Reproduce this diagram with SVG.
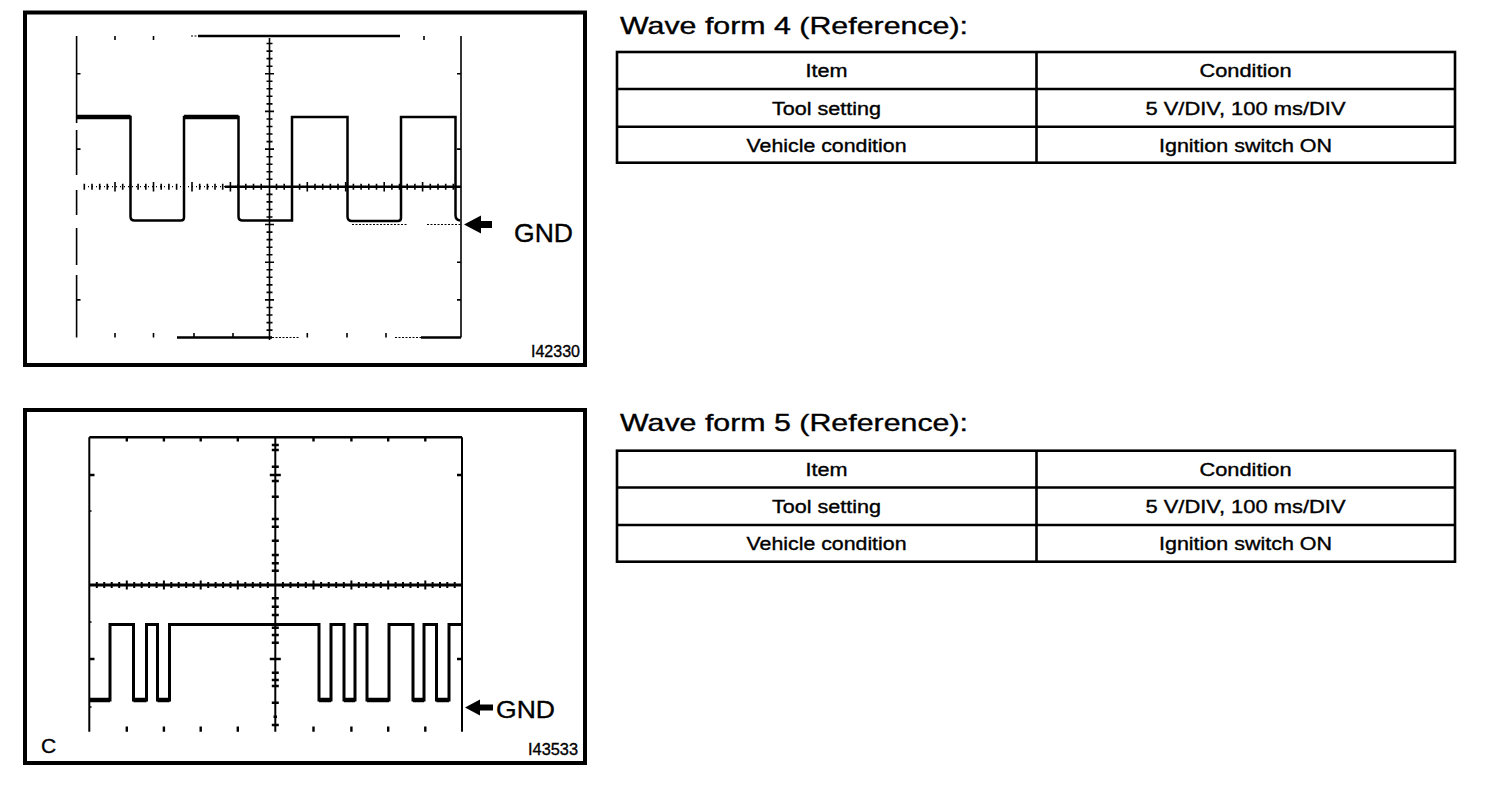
<svg xmlns="http://www.w3.org/2000/svg" width="1504" height="788" viewBox="0 0 1504 788">
<style>
  .frame{fill:none;stroke:#000;stroke-width:4}
  .grid{fill:none;stroke:#000;stroke-width:1.6}
  .gridb{fill:none;stroke:#000;stroke-width:2.4}
  .tick{fill:none;stroke:#000;stroke-width:1.6}
  .tickb{fill:none;stroke:#000;stroke-width:2.4}
  .wave{fill:none;stroke:#000;stroke-width:2.5;stroke-linejoin:miter}
  .dot{fill:none;stroke:#000;stroke-width:1.2;stroke-dasharray:2 1.5}
  .tbl{fill:none;stroke:#000;stroke-width:2.6}
  .t{font-family:"Liberation Sans",Arial,Helvetica,sans-serif;fill:#000;stroke:#000;stroke-width:0.35}
  .title{font-size:24px}
  .cell{font-size:18px;text-anchor:middle}
  .gnd{font-size:26px}
  .code{font-size:16px}
</style>
<rect width="1504" height="788" fill="#fff"/>

<!-- ===== Oscilloscope 1 (Wave form 4) ===== -->
<g id="scope4">
  <rect class="frame" x="25" y="12.5" width="560" height="352.5"/>
  <!-- outer grid -->
  <path class="grid" d="M76.6,36 V123 M76.6,130 V175 M76.6,190 V215 M76.6,228 V265 M76.6,275 V337.5"/>
  <path class="grid" d="M461,36 V337.5"/>
  <path class="gridb" d="M198,36 H400"/>
  <path class="dot" d="M191,36 H198"/>
  <path class="gridb" d="M177,337.5 H272 M421,337.5 H461"/>
  <path class="dot" d="M272,337.5 H300 M395,337.5 H421"/>
  <!-- top / bottom ticks -->
  <path class="tick" d="M115,36 V40 M153.5,36 V40 M424,36 V40 M115,337.5 V333 M153.5,337.5 V333 M194,337.5 V333 M233,337.5 V333 M307.3,337.5 V333 M347,337.5 V333 M386,337.5 V333"/>
  <!-- side ticks -->
  <path class="tick" d="M76.6,73.7 H80.5 M76.6,149.1 H80.5 M76.6,299.9 H80.5 M461,73.7 H457 M461,149.1 H457 M461,262.2 H457 M461,299.9 H457"/>
  <!-- centre vertical axis -->
  <path class="grid" d="M269.5,38 V340"/>
  <path class="tick" d="M266.5,43.5 H272.5 M266.5,51.1 H272.5 M266.5,58.6 H272.5 M266.5,66.2 H272.5 M265,73.7 H274 M266.5,81.2 H272.5 M266.5,88.8 H272.5 M266.5,96.3 H272.5 M266.5,103.9 H272.5 M265,111.4 H274 M266.5,119 H272.5 M266.5,126.5 H272.5 M266.5,134 H272.5 M266.5,141.6 H272.5 M265,149.1 H274 M266.5,156.7 H272.5 M266.5,164.2 H272.5 M266.5,171.7 H272.5 M266.5,179.3 H272.5 M266.5,194.4 H272.5 M266.5,201.9 H272.5 M266.5,209.5 H272.5 M266.5,217 H272.5 M265,224.5 H274 M266.5,232.1 H272.5 M266.5,239.6 H272.5 M266.5,247.2 H272.5 M266.5,254.7 H272.5 M265,262.2 H274 M266.5,269.8 H272.5 M266.5,277.3 H272.5 M266.5,284.9 H272.5 M266.5,292.4 H272.5 M265,299.9 H274 M266.5,307.5 H272.5 M266.5,315 H272.5 M266.5,322.6 H272.5 M266.5,330.1 H272.5"/>
  <!-- centre horizontal axis -->
  <path class="dot" d="M84,186.7 H225" style="stroke-dasharray:1 3"/>
  <path class="gridb" d="M225,186.7 H461"/>
  <path class="tick" d="M84.3,183.7 V189.7 M92,183.7 V189.7 M99.7,183.7 V189.7 M107.3,183.7 V189.7 M115,182 V191.5 M122.7,183.7 V189.7 M130.4,183.7 V189.7 M138.1,183.7 V189.7 M145.8,183.7 V189.7 M153.5,182 V191.5 M161.2,183.7 V189.7 M168.9,183.7 V189.7 M176.6,183.7 V189.7 M184.2,183.7 V189.7 M192,182 V191.5 M199.7,183.7 V189.7 M207.4,183.7 V189.7 M215,183.7 V189.7 M222.7,183.7 V189.7 M230.4,182 V191.5 M238.1,183.7 V189.7 M245.8,183.7 V189.7 M253.5,183.7 V189.7 M261.2,183.7 V189.7 M276.5,183.7 V189.7 M284.2,183.7 V189.7 M292,183.7 V189.7 M299.6,183.7 V189.7 M307.3,182 V191.5 M315,183.7 V189.7 M322.7,183.7 V189.7 M330.4,183.7 V189.7 M338,183.7 V189.7 M345.7,182 V191.5 M353.4,183.7 V189.7 M361.1,183.7 V189.7 M368.8,183.7 V189.7 M376.5,183.7 V189.7 M384.2,182 V191.5 M391.9,183.7 V189.7 M399.5,183.7 V189.7 M407.2,183.7 V189.7 M414.9,183.7 V189.7 M422.6,182 V191.5 M430.3,183.7 V189.7 M438,183.7 V189.7 M445.7,183.7 V189.7 M453.3,183.7 V189.7"/>
  <!-- waveform -->
  <path class="wave" d="M76.6,117 H130.5 V216.5 Q130.5,220.5 134.5,220.5 H181 Q184,220.5 184,217.5 V117 H238.5 V216.5 Q238.5,220.5 242.5,220.5 H292 V117 H347.5 V216.5 Q347.5,221 352,221 H398 Q401,221 401,218 V117 H455.5 V215 Q455.5,220 460,220.5"/>
  <path d="M76.6,117 H130.5 M184,117 H238.5" fill="none" stroke="#000" stroke-width="4.5"/>
  <!-- GND level (dotted) -->
  <path class="dot" d="M352,224.5 H407 M427,224.5 H462"/>
  <text class="t gnd" x="514" y="241.5" textLength="59" lengthAdjust="spacingAndGlyphs">GND</text>
  <text class="t code" x="531" y="357" textLength="49" lengthAdjust="spacingAndGlyphs">I42330</text>
</g>

<!-- ===== Oscilloscope 2 (Wave form 5) ===== -->
<g id="scope5">
  <rect class="frame" x="25" y="410" width="560" height="353"/>
  <path class="grid" d="M89.3,437.3 V731.7 M462,437.3 V731.7" style="stroke-width:2"/>
  <path class="gridb" d="M89.3,437.3 H462"/>
  <!-- top / bottom ticks -->
  <path class="tickb" d="M126.8,437.3 V441.5 M163.9,437.3 V441.5 M200.7,437.3 V441.5 M237.8,437.3 V441.5 M313.5,437.3 V441.5 M351.4,437.3 V441.5 M388.2,437.3 V441.5 M425.3,437.3 V441.5 M126.8,726.5 V731.7 M163.9,726.5 V731.7 M200.7,726.5 V731.7 M237.8,726.5 V731.7 M313.5,726.5 V731.7 M351.4,726.5 V731.7 M388.2,726.5 V731.7 M425.3,726.5 V731.7"/>
  <!-- side ticks -->
  <path class="tickb" d="M89.3,475 H94.5 M89.3,659 H94.5 M462,475 H457 M462,659 H457"/>
  <path class="tick" d="M89.3,511 H91.5 M89.3,622 H91.5 M89.3,707 H91.5"/>
  <!-- centre vertical axis -->
  <path class="grid" d="M275.3,437.3 V731.7" style="stroke-width:2"/>
  <path class="tickb" d="M271.8,445 H278.8 M271.8,450 H278.8 M271.8,466.7 H278.8 M269.8,475 H280.8 M271.8,481 H278.8 M271.8,496.7 H278.8 M271.8,519 H278.8 M271.8,526.7 H278.8 M271.8,540.7 H278.8 M271.8,555 H278.8 M271.8,563.3 H278.8 M271.8,570.7 H278.8 M271.8,598.3 H278.8 M271.8,606.7 H278.8 M271.8,615 H278.8 M271.8,627.7 H278.8 M271.8,635 H278.8 M271.8,642.7 H278.8 M269.8,659 H280.8 M271.8,672.7 H278.8 M271.8,680 H278.8 M271.8,686 H278.8 M271.8,702.7 H278.8 M273.5,716.7 H277 M271.8,725 H278.8"/>
  <!-- centre horizontal axis -->
  <path class="gridb" d="M89.3,585 H462" style="stroke-width:2.8"/>
  <path class="tick" d="M96.8,582 V588 M104.2,582 V588 M111.7,582 V588 M119.2,582 V588 M126.8,580.5 V589.5 M134.2,582 V588 M141.7,582 V588 M149.1,582 V588 M156.6,582 V588 M163.9,580.5 V589.5 M171.3,582 V588 M178.7,582 V588 M186.2,582 V588 M193.6,582 V588 M200.7,580.5 V589.5 M208.2,582 V588 M215.6,582 V588 M223.1,582 V588 M230.5,582 V588 M237.8,580.5 V589.5 M245.3,582 V588 M252.8,582 V588 M260.3,582 V588 M267.8,582 V588 M282.9,582 V588 M290.5,582 V588 M298.1,582 V588 M305.8,582 V588 M313.5,580.5 V589.5 M321.1,582 V588 M328.7,582 V588 M336.2,582 V588 M343.8,582 V588 M351.4,580.5 V589.5 M358.8,582 V588 M366.2,582 V588 M373.5,582 V588 M380.8,582 V588 M388.2,580.5 V589.5 M395.6,582 V588 M403,582 V588 M410.5,582 V588 M417.9,582 V588 M425.3,580.5 V589.5 M432.6,582 V588 M440,582 V588 M447.3,582 V588 M454.7,582 V588" style="stroke-width:2"/>
  <!-- waveform -->
  <path class="wave" style="stroke-width:3" d="M89.3,700 H110 V624.5 H133.5 V700 H146.5 V624.5 H157.5 V700 H169.5 V624.5 H319 V700 H331 V624.5 H344 V700 H355 V624.5 H367 V700 H389 V624.5 H413 V700 H424 V624.5 H436.5 V700 H449 V624.5 H462"/>
  <path d="M89.3,700 H110 M133.5,700 H146.5 M157.5,700 H169.5 M319,700 H331 M344,700 H355 M367,700 H389 M413,700 H424 M436.5,700 H449" fill="none" stroke="#000" stroke-width="4.5"/>
  <text class="t gnd" x="496" y="717.7" style="font-size:24px" textLength="59" lengthAdjust="spacingAndGlyphs">GND</text>
  <text class="t" x="41" y="753" style="font-size:21px">C</text>
  <text class="t code" x="528" y="755" textLength="50" lengthAdjust="spacingAndGlyphs">I43533</text>
</g>

<!-- ===== GND pointer arrows ===== -->
<g id="connectors">
  <polygon points="464,224.5 481,215.5 481,221 492,221 492,228 481,228 481,233.5" fill="#000"/>
  <polygon points="465,707.5 480,699.5 480,704.5 493,704.5 493,710.5 480,710.5 480,715.5" fill="#000"/>
</g>

<!-- ===== Wave form 4 title and table ===== -->
<g id="title4">
  <text class="t title" x="620" y="33.5" textLength="348" lengthAdjust="spacingAndGlyphs">Wave form 4 (Reference):</text>
</g>
<g id="table4">
  <rect class="tbl" x="617" y="52" width="838" height="110.7"/>
  <path class="tbl" d="M617,89 H1455 M617,126.7 H1455 M1036.5,52 V162.7"/>
  <text class="t cell" x="826.5" y="77" textLength="42" lengthAdjust="spacingAndGlyphs">Item</text>
  <text class="t cell" x="1245.5" y="77" textLength="92" lengthAdjust="spacingAndGlyphs">Condition</text>
  <text class="t cell" x="826.5" y="114.5" textLength="109" lengthAdjust="spacingAndGlyphs">Tool setting</text>
  <text class="t cell" x="1245.5" y="114.5" textLength="200" lengthAdjust="spacingAndGlyphs">5 V/DIV, 100 ms/DIV</text>
  <text class="t cell" x="826.5" y="151.7" textLength="160" lengthAdjust="spacingAndGlyphs">Vehicle condition</text>
  <text class="t cell" x="1245.5" y="151.7" textLength="173" lengthAdjust="spacingAndGlyphs">Ignition switch ON</text>
</g>

<!-- ===== Wave form 5 title and table ===== -->
<g id="title5">
  <text class="t title" x="620" y="431" textLength="348" lengthAdjust="spacingAndGlyphs">Wave form 5 (Reference):</text>
</g>
<g id="table5">
  <rect class="tbl" x="617" y="450.7" width="838" height="111"/>
  <path class="tbl" d="M617,487.5 H1455 M617,525 H1455 M1036.5,450.7 V561.7"/>
  <text class="t cell" x="826.5" y="475.5" textLength="42" lengthAdjust="spacingAndGlyphs">Item</text>
  <text class="t cell" x="1245.5" y="475.5" textLength="92" lengthAdjust="spacingAndGlyphs">Condition</text>
  <text class="t cell" x="826.5" y="513" textLength="109" lengthAdjust="spacingAndGlyphs">Tool setting</text>
  <text class="t cell" x="1245.5" y="513" textLength="200" lengthAdjust="spacingAndGlyphs">5 V/DIV, 100 ms/DIV</text>
  <text class="t cell" x="826.5" y="550" textLength="160" lengthAdjust="spacingAndGlyphs">Vehicle condition</text>
  <text class="t cell" x="1245.5" y="550" textLength="173" lengthAdjust="spacingAndGlyphs">Ignition switch ON</text>
</g>
</svg>
